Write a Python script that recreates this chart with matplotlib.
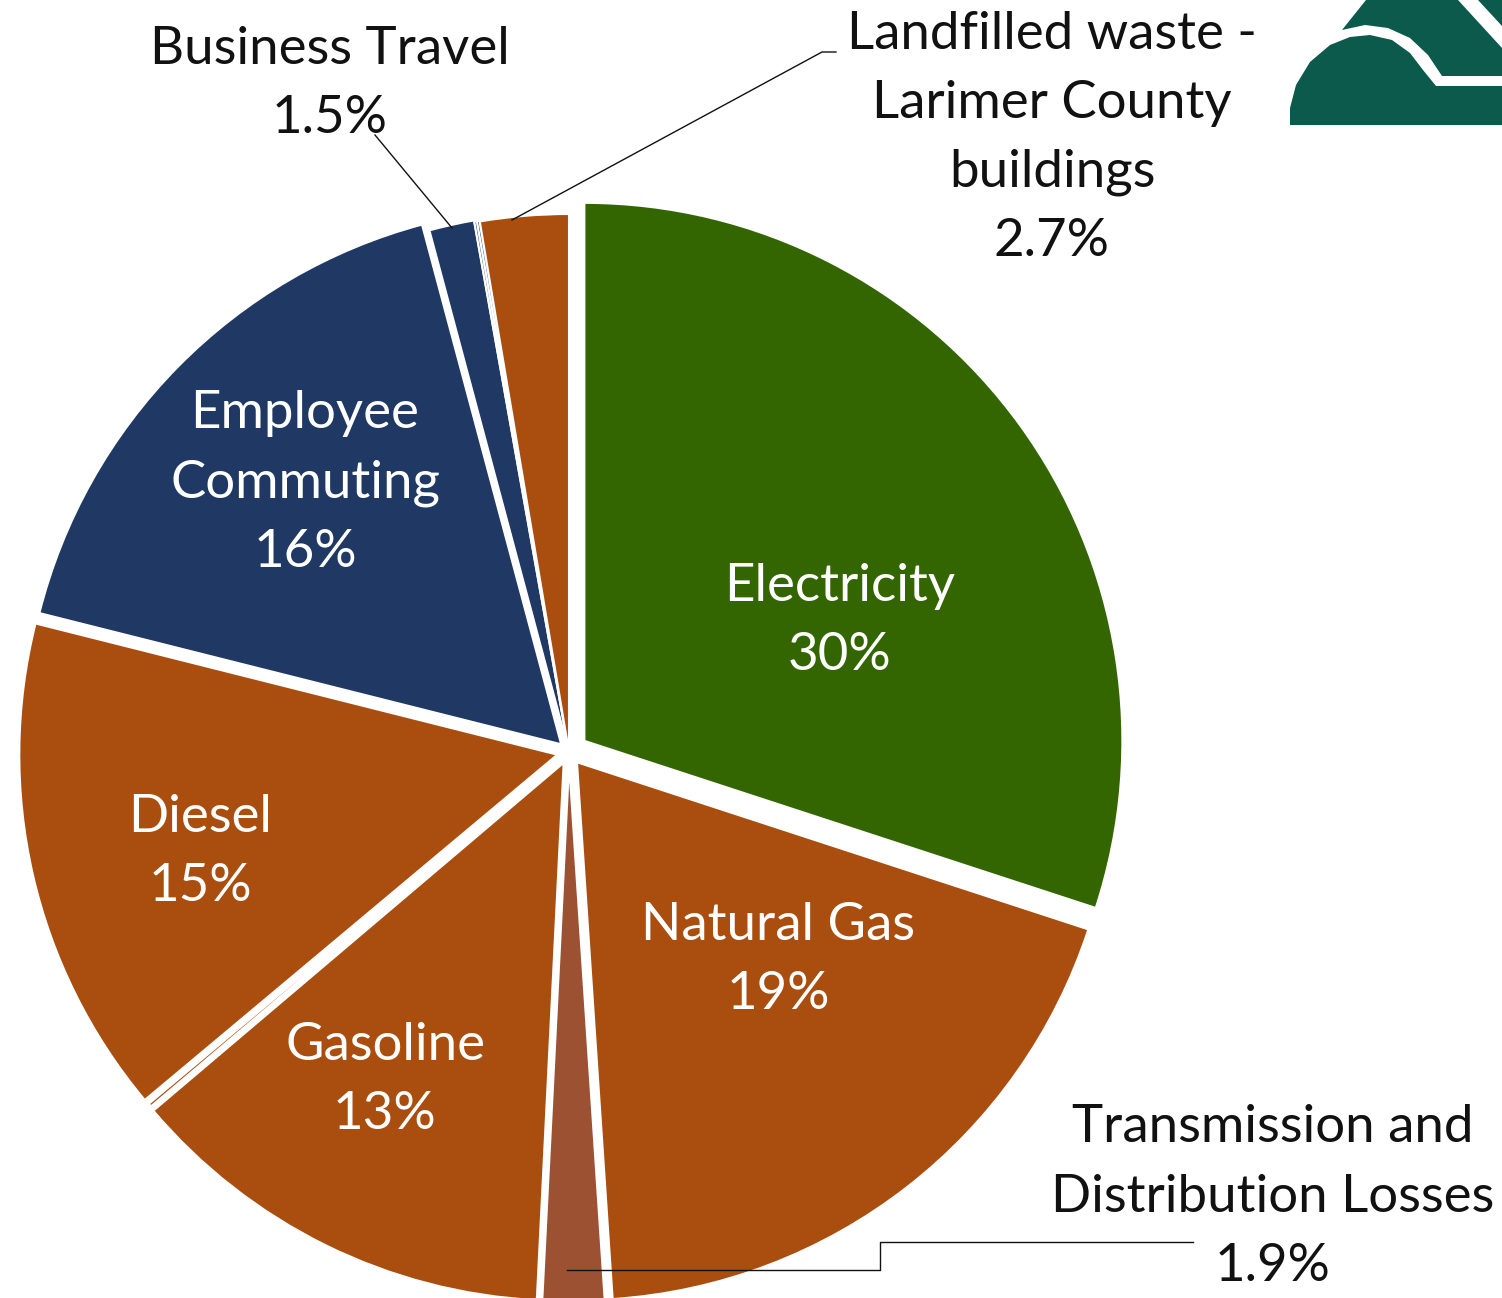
import matplotlib
matplotlib.use("Agg")
import matplotlib.pyplot as plt
from matplotlib.patches import Polygon

plt.rcParams['font.family'] = ['Lato', 'DejaVu Sans']

# emissions share (%), clockwise from 12 o'clock
sources = ["Electricity", "Natural Gas", "Transmission and Distribution Losses",
           "Gasoline", "Other fuel", "Diesel", "Employee Commuting",
           "Business Travel", "Other travel A", "Other travel B",
           "Landfilled waste - Larimer County buildings"]
shares = [30.0, 18.9, 1.85, 13.0, 0.1, 15.0, 16.9, 1.35, 0.08, 0.08, 2.65]
shown = ["30%", "19%", "1.9%", "13%", "", "15%", "16%", "1.5%", "", "", "2.7%"]
colors = ["#336600", "#AA4E10", "#9C5232", "#AA4E10", "#AA4E10", "#AA4E10",
          "#203864", "#203864", "#203864", "#203864", "#AA4E10"]
# pull-out distance in pixels (pie is drawn in pixel units)
explode = [19, 13, 12, 12, 10, 12, 11, 2, 1, 1, 0]

W, H = 1502, 1298
fig = plt.figure(figsize=(W / 100, H / 100), dpi=100)
ax = fig.add_axes([0, 0, 1, 1])

cx, cy, R = 569, H - 752, 538
ax.pie(shares, colors=colors, explode=explode, startangle=90, counterclock=False,
       center=(cx, cy), radius=R, frame=True,
       wedgeprops=dict(edgecolor='white', linewidth=1.5))
ax.set_xlim(0, W)
ax.set_ylim(0, H)
ax.set_aspect('equal')
ax.axis('off')

fs = 38
ls = 1.58
def lab(x, y, s, c='white'):
    ax.text(x, H - y, s, ha='center', va='center', color=c, fontsize=fs,
            linespacing=ls)

lab(840, 621, sources[0] + "\n" + shown[0])
lab(778, 960, sources[1] + "\n" + shown[1])
lab(385, 1080, sources[3] + "\n" + shown[3])
lab(200, 852, sources[5] + "\n" + shown[5])
lab(305, 483, "Employee\nCommuting\n" + shown[6])
lab(330, 84, sources[7] + "\n" + shown[7], '#111111')
lab(1052, 138, "Landfilled waste -\nLarimer County\nbuildings\n" + shown[10], '#111111')
lab(1273, 1197, "Transmission and\nDistribution Losses\n" + shown[2], '#111111')

# leader lines
def line(xs, ys):
    ax.plot(xs, [H - v for v in ys], color='#111111', lw=1.0)

line([375, 452], [135, 228])
line([836, 822, 512], [52, 52, 220])
line([1193, 880, 880, 567], [1242, 1242, 1270, 1270])

# logo in the corner
green = '#0B5A4B'
dome = [(1290, 125), (1290, 108), (1296, 85), (1310, 62), (1330, 45), (1350, 37),
        (1370, 35), (1392, 40), (1410, 53), (1423, 70), (1436, 86), (1502, 86),
        (1502, 125)]
upper = [(1366, 0), (1458, 0), (1502, 48), (1502, 76), (1442, 76), (1428, 55),
         (1410, 38), (1388, 28), (1365, 25), (1342, 30)]
tip = [(1478, 0), (1502, 0), (1502, 26)]
for pts in (dome, upper, tip):
    ax.add_patch(Polygon([(x, H - y) for x, y in pts], closed=True,
                         facecolor=green, edgecolor='none'))

fig.savefig("out.png", dpi=100)
